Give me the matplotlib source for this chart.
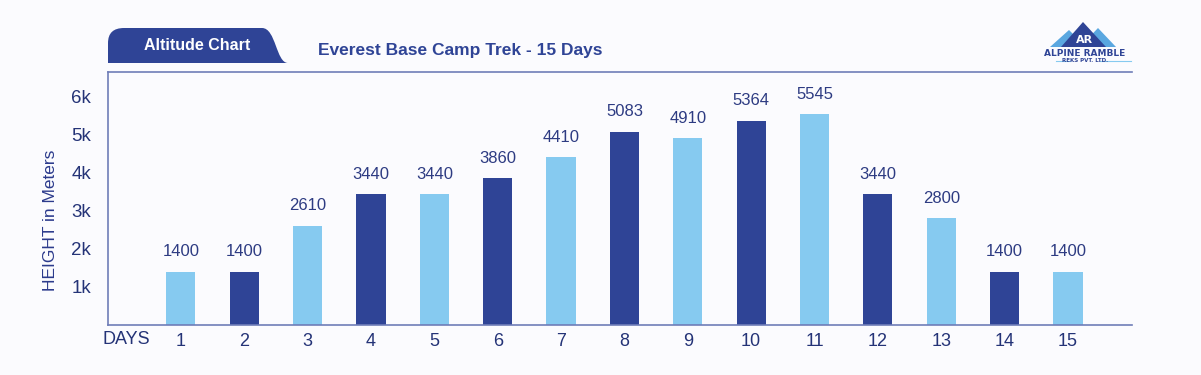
import numpy as np
import matplotlib
matplotlib.use("Agg")
import matplotlib.pyplot as plt
from matplotlib.path import Path
from matplotlib.patches import PathPatch, Polygon

# chart data
days = list(range(1, 16))
heights = [1400, 1400, 2610, 3440, 3440, 3860, 4410, 5083, 4910, 5364, 5545, 3440, 2800, 1400, 1400]
y_ticks = [1000, 2000, 3000, 4000, 5000, 6000]
y_tick_labels = ["1k", "2k", "3k", "4k", "5k", "6k"]

W, H = 1201, 375
DARK = "#2f4496"
LIGHT = "#86caf0"
NAVY = "#243377"
BG = "#fbfbfe"


def fx(x):
    return x / W


def fy(y):
    return 1 - y / H


plt.rcParams["font.family"] = ["Liberation Sans", "DejaVu Sans"]

fig = plt.figure(figsize=(W / 100, H / 100), dpi=100, facecolor=BG)
ax = fig.add_axes([fx(108), fy(325), fx(1132) - fx(108), fy(72) - fy(325)])
ax.set_facecolor(BG)

colors = [LIGHT if i % 2 == 0 else DARK for i in range(len(days))]
bars = ax.bar(days, heights, width=0.46, color=colors, zorder=2)

for d, h in zip(days, heights):
    ax.annotate(str(h), (d, h), xytext=(0, 9), textcoords="offset points",
                ha="center", va="bottom", fontsize=12, color="#2d3b82")

ax.set_xlim(-0.15, 16.01)
ax.set_ylim(0, 6650)
ax.set_xticks(days)
ax.set_xticklabels([str(d) for d in days], fontsize=13, color=NAVY)
ax.set_yticks(y_ticks)
ax.set_yticklabels(y_tick_labels, fontsize=13.5, color=NAVY)
ax.tick_params(axis="both", length=0)
ax.tick_params(axis="x", pad=6)
ax.tick_params(axis="y", pad=12)

for side in ["left", "bottom", "top"]:
    ax.spines[side].set_color("#6f7db8")
    ax.spines[side].set_linewidth(1.2)
ax.spines["right"].set_visible(False)

ax.set_ylabel("HEIGHT in Meters", fontsize=12.5, color="#2b3a8c")
ax.yaxis.set_label_coords(-0.049, 0.415)
fig.text(fx(126), fy(340), "DAYS", ha="center", va="center", fontsize=13, color=NAVY)

# header tab
verts = [(108, 63), (108, 43), (108, 28), (124, 28), (262, 28),
         (276, 28), (276, 63), (288, 63), (108, 63)]
codes = [Path.MOVETO, Path.LINETO, Path.CURVE3, Path.CURVE3, Path.LINETO,
         Path.CURVE4, Path.CURVE4, Path.CURVE4, Path.CLOSEPOLY]
tab = Path([(fx(x), fy(y)) for x, y in verts], codes)
fig.patches.append(PathPatch(tab, transform=fig.transFigure, facecolor=DARK, edgecolor="none"))
fig.text(fx(197), fy(45), "Altitude Chart", ha="center", va="center",
         fontsize=11.5, color="white", weight="bold")
fig.text(fx(318), fy(50), "Everest Base Camp Trek - 15 Days", ha="left", va="center",
         fontsize=12.5, color=DARK, weight="bold")

# logo
def tri(pts, color):
    fig.patches.append(Polygon([(fx(x), fy(y)) for x, y in pts], closed=True,
                               transform=fig.transFigure, facecolor=color, edgecolor="none"))


tri([(1050, 47), (1069, 30), (1086, 47)], "#5aa7e0")
tri([(1080, 47), (1098, 28), (1116, 47)], "#5aa7e0")
tri([(1061, 47), (1083, 22), (1106, 47)], DARK)
fig.text(fx(1084), fy(40), "AR", ha="center", va="center", fontsize=8,
         color="white", weight="bold", family="DejaVu Sans")
fig.text(fx(1085), fy(53), "ALPINE RAMBLE", ha="center", va="center", fontsize=6.5,
         color=DARK, weight="bold", family="DejaVu Sans")
fig.text(fx(1085), fy(61), "REKS PVT. LTD.", ha="center", va="center", fontsize=4,
         color=DARK, weight="bold", family="DejaVu Sans")
fig.lines.append(plt.Line2D([fx(1056), fx(1070)], [fy(61), fy(61)], transform=fig.transFigure,
                            color="#86caf0", lw=0.8))
fig.lines.append(plt.Line2D([fx(1100), fx(1131)], [fy(61), fy(61)], transform=fig.transFigure,
                            color="#86caf0", lw=0.8))

fig.savefig("out.png", dpi=100, facecolor=BG)
